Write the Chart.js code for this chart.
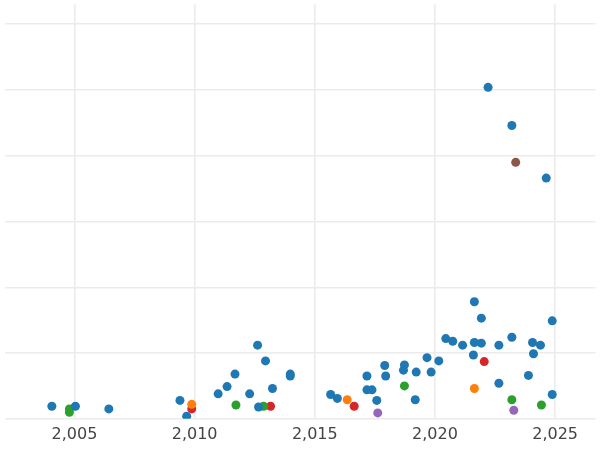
<!DOCTYPE html>
<html><head><meta charset="utf-8">
<script src="https://cdn.jsdelivr.net/npm/chart.js@4"></script>
<style>html,body{margin:0;padding:0;background:#fff}</style>
</head><body><canvas id="c" width="600" height="450"></canvas>
<script>
// valores: [ano, valor]
const blue = [[2004.06,0.19],[2005.04,0.19],[2006.43,0.15],[2009.39,0.28],[2009.67,0.04],[2010.98,0.38],
  [2011.35,0.49],[2011.68,0.68],[2012.29,0.38],[2012.62,1.12],[2012.66,0.18],[2012.95,0.88],[2013.24,0.46],
  [2013.98,0.68],[2013.98,0.65],[2015.66,0.37],[2015.94,0.31],[2017.17,0.65],[2017.17,0.44],[2017.38,0.44],
  [2017.58,0.28],[2017.91,0.81],[2017.95,0.65],[2018.69,0.74],[2018.73,0.82],[2019.18,0.29],[2019.22,0.71],
  [2019.67,0.93],[2019.84,0.71],[2020.16,0.88],[2020.45,1.22],[2020.74,1.18],[2021.15,1.12],[2021.60,0.97],
  [2021.64,1.78],[2021.64,1.16],[2021.93,1.15],[2021.93,1.53],[2022.21,5.04],[2022.66,1.12],[2022.66,0.54],
  [2023.20,4.46],[2023.20,1.24],[2023.89,0.66],[2024.06,1.16],[2024.10,0.99],[2024.39,1.12],[2024.63,3.66],
  [2024.88,1.49],[2024.88,0.37]];
const orange = [[2009.88,0.22],[2016.35,0.29],[2021.64,0.46]];
const green = [[2004.79,0.15],[2004.79,0.10],[2011.72,0.21],[2012.87,0.19],[2018.73,0.50],[2023.20,0.29],[2024.43,0.21]];
const red = [[2009.88,0.15],[2013.16,0.19],[2016.64,0.19],[2022.05,0.87]];
const purple = [[2017.62,0.09],[2023.28,0.13]];
const brown = [[2023.36,3.90]];
const xTicks = [2005, 2010, 2015, 2020, 2025];

const series = [[blue,'#1f77b4'],[orange,'#ff7f0e'],[green,'#2ca02c'],[red,'#d62728'],[purple,'#9467bd'],[brown,'#8c564b']];
new Chart(document.getElementById('c'), {
  type: 'scatter',
  data: {
    datasets: series.map(([pts, col]) => ({
      data: pts.map(p => ({x: p[0], y: p[1]})),
      backgroundColor: col, borderWidth: 0, pointRadius: 4.5
    }))
  },
  options: {
    responsive: false, animation: false,
    layout: {padding: 0},
    plugins: {legend: {display: false}, tooltip: {enabled: false}},
    scales: {
      x: {
        min: 2002.09, max: 2026.68,
        afterBuildTicks: ax => { ax.ticks = xTicks.map(v => ({value: v})); },
        ticks: {font: {family: 'DejaVu Sans', size: 16}, color: '#444', padding: 6},
        grid: {color: '#ebebeb', lineWidth: 1.5, drawTicks: false},
        border: {display: false}
      },
      y: {
        min: 0, max: 6.3,
        afterBuildTicks: ax => { ax.ticks = [0,1,2,3,4,5,6].map(v => ({value: v})); },
        ticks: {display: false},
        grid: {color: '#ebebeb', lineWidth: 1.5, drawTicks: false},
        border: {display: false}
      }
    }
  }
});
</script>
</body></html>
